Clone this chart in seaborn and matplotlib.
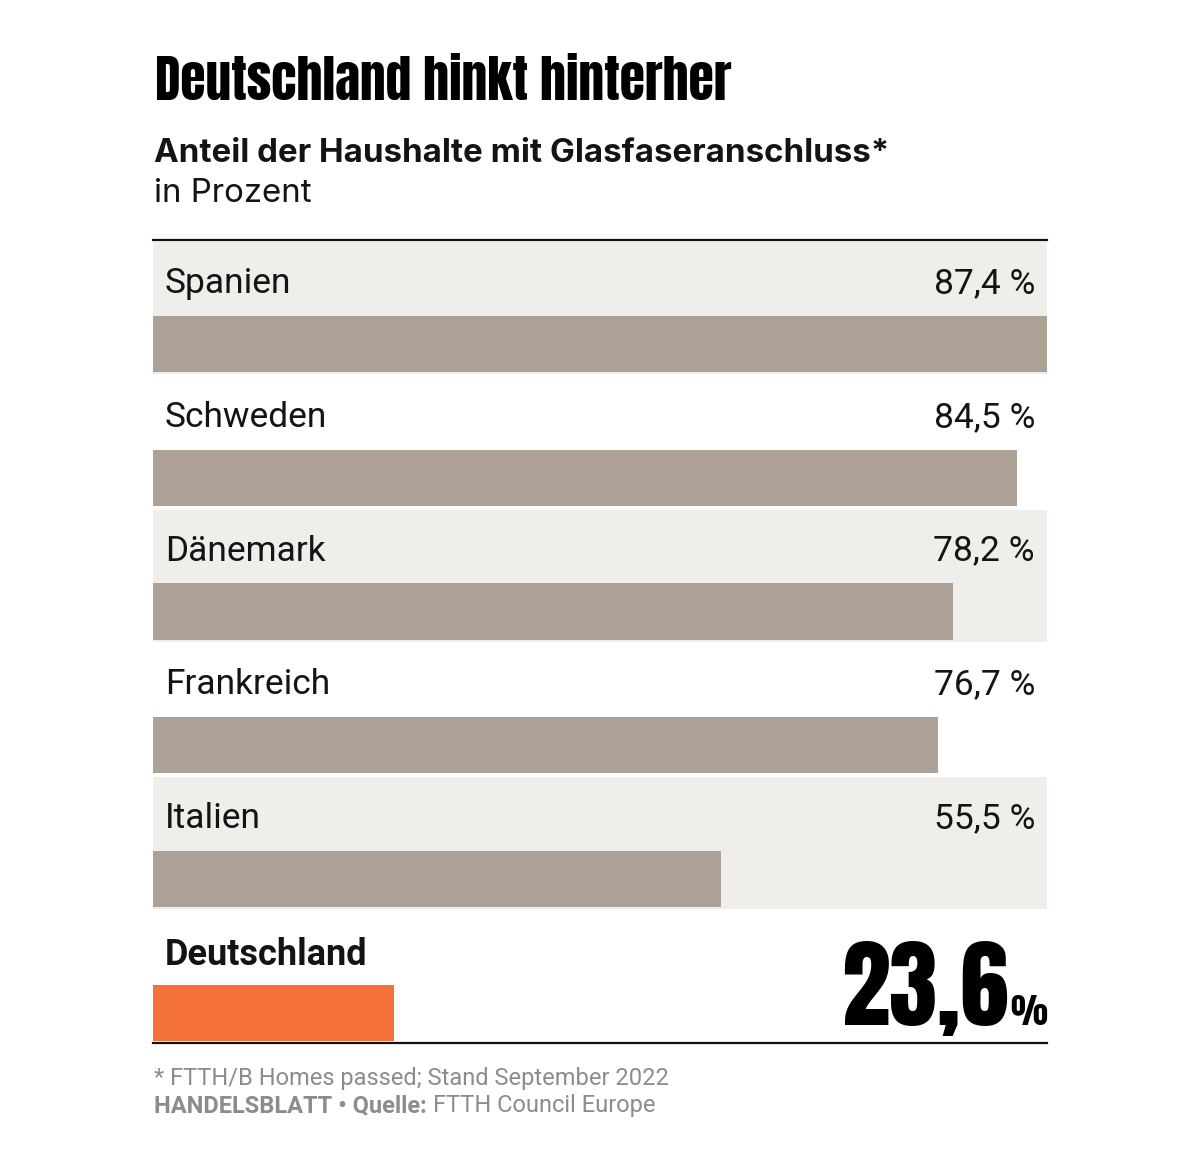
import matplotlib
matplotlib.use("Agg")
import matplotlib.pyplot as plt
from matplotlib import font_manager
import seaborn as sns
import pandas as pd

# data
countries = ["Spanien", "Schweden", "Dänemark", "Frankreich", "Italien", "Deutschland"]
values = [87.4, 84.5, 78.2, 76.7, 55.5, 23.6]
value_labels = ["87,4 %", "84,5 %", "78,2 %", "76,7 %", "55,5 %"]
highlight_label = "23,6"

title = "Deutschland hinkt hinterher"
subtitle = "Anteil der Haushalte mit Glasfaseranschluss*"
unit = "in Prozent"
note = "* FTTH/B Homes passed; Stand September 2022"

sns.set_theme(style="white")
plt.rcParams['font.family'] = ['Roboto', 'DejaVu Sans']

names = {f.name for f in font_manager.fontManager.ttflist}
cond = None
for fam, w in [('Anton', 'normal'), ('Oswald', 'bold'), ('Roboto Condensed', 'bold'),
               ('Liberation Sans Narrow', 'bold')]:
    if fam in names:
        cond = dict(family=fam, fontweight=w)
        break
if cond is None:
    cond = dict(family='DejaVu Sans', fontweight='bold')
head = 'Inter' if 'Inter' in names else 'Roboto'

bar_col = '#ada196'
bg_col = '#f0eeeb'
orange = '#f5733a'
txt = '#141414'
grey = '#8c8c8c'

df = pd.DataFrame({'land': countries, 'wert': values})
cols = [bar_col] * 5 + [orange]

fig = plt.figure(figsize=(12, 11.52), dpi=100)
ax = fig.add_axes([153/1200, 109/1152, 894/1200, 803/1152])

# alternating backgrounds
for i in (0, 2, 4):
    ax.axhspan(i - 0.76, i + 0.225, color=bg_col, zorder=0, lw=0)

sns.barplot(data=df, x='wert', y='land', hue='land', palette=cols, legend=False,
            width=0.42, orient='h', ax=ax, saturation=1, zorder=2, linewidth=0)

ax.set_xlim(0, 87.4)
ax.set_ylim(5.224, -0.776)
ax.set_xticks([])
ax.set_yticks([])
ax.set_xlabel('')
ax.set_ylabel('')
for s in ['left', 'right']:
    ax.spines[s].set_visible(False)
for s in ['top', 'bottom']:
    ax.spines[s].set_color('#111111')
    ax.spines[s].set_linewidth(1.6)

tr = ax.get_yaxis_transform()
for i, land in enumerate(countries[:-1]):
    ax.text(0.0135, i - 0.38, land, transform=tr, fontsize=25.5, color=txt, va='baseline', ha='left')
    ax.text(0.9865, i - 0.38, value_labels[i], transform=tr, fontsize=25.5, color=txt, va='baseline', ha='right')

ax.text(0.0135, 5 - 0.36, countries[-1], transform=tr, fontsize=26, fontweight='bold', color=txt, va='baseline', ha='left')
ax.text(0.957, 5.089, highlight_label, transform=tr, fontsize=70, color='black', va='baseline', ha='right', **cond)
ax.text(1.0, 5.089, "%", transform=tr, fontsize=25, color='black', va='baseline', ha='right', **cond)

# header
fig.text(155/1200, 1 - 100/1152, title, fontsize=37, color='black', va='baseline', ha='left', **cond)
fig.text(154/1200, 1 - 162/1152, subtitle, fontsize=23.8, fontweight='bold', color=txt, va='baseline', ha='left',
         family=head)
fig.text(154/1200, 1 - 202/1152, unit, fontsize=23.8, color=txt, va='baseline', ha='left', family=head)

# footer
fig.text(154/1200, 1 - 1085/1152, note, fontsize=17, color=grey, va='baseline', ha='left')
t = fig.text(154/1200, 1 - 1112/1152, "HANDELSBLATT • Quelle: ", fontsize=17, fontweight='bold', color=grey,
             va='baseline', ha='left')
fig.canvas.draw()
bb = t.get_window_extent()
fig.text(bb.x1 / 1200, 1 - 1112/1152, "FTTH Council Europe", fontsize=17, color=grey, va='baseline', ha='left')

fig.savefig('out.png', dpi=100, facecolor='white')
